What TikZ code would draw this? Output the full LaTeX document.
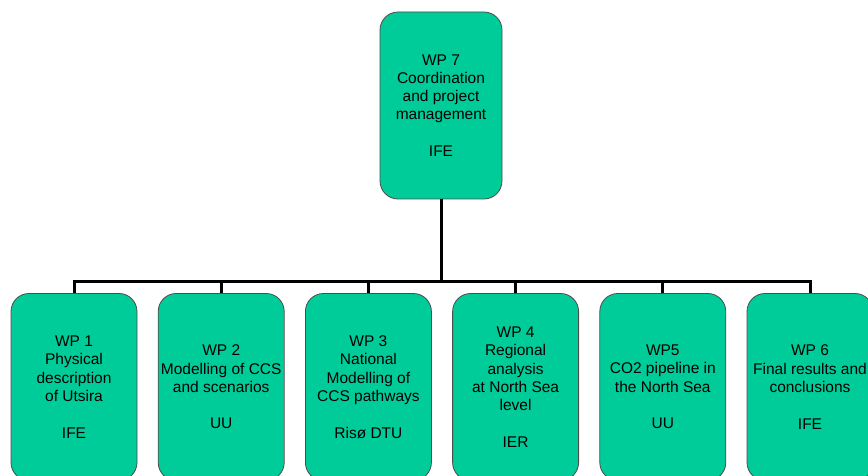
\documentclass[tikz,border=0pt]{standalone}
\usepackage{fontspec}
\setmainfont{Liberation Sans}
\usetikzlibrary{positioning}
\definecolor{wpgreen}{RGB}{0,204,153}
\tikzset{
  wpbox/.style={draw=black!70,line width=0.8pt,fill=wpgreen,rounded corners=18pt,
    minimum width=126pt,minimum height=187pt,inner sep=0pt,align=center,
    font=\fontsize{15.5}{18.3}\selectfont},
  link/.style={line width=3pt}
}
\begin{document}
\begin{tikzpicture}[x=1pt,y=-1pt]
  \useasboundingbox (0,0) rectangle (868,476);
  \clip (0,0) rectangle (868,476);
  \node[wpbox,minimum width=122pt] (wp7) at (441,105.5)
  {WP 7\\Coordination\\and project\\management\\[18.3pt]IFE};
  \coordinate (bus) at (441,281.5);
  \foreach \n/\txt [count=\i from 0] in {%
    1/{WP 1\\Physical\\description\\of Utsira\\[18.3pt]IFE},%
    2/{WP 2\\Modelling of CCS\\and scenarios\\[18.3pt]UU},%
    3/{WP 3\\National\\Modelling of\\CCS pathways\\[18.3pt]Risø DTU},%
    4/{WP 4\\Regional\\analysis\\at North Sea\\level\\[18.3pt]IER},%
    5/{WP5\\CO2 pipeline in\\the North Sea\\[18.3pt]UU},%
    6/{WP 6\\Final results and\\conclusions\\[18.3pt]IFE}}
  \node[wpbox] (wp\n) at (74+147.2*\i,387) {\txt};
  \draw[link] (wp7.south) -- (bus);
  \draw[link] (wp1.north) -- (wp1.north |- bus) -- (wp6.north |- bus) -- (wp6.north);
  \foreach \n in {2,...,5} \draw[link] (wp\n.north) -- (wp\n.north |- bus);
\end{tikzpicture}
\end{document}
